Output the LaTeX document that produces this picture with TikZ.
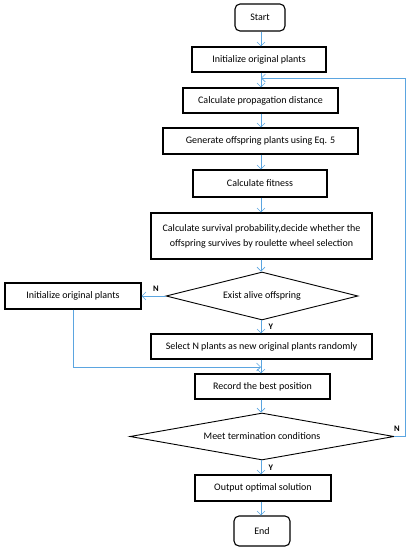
\documentclass[tikz,border=0pt]{standalone}
\usepackage{fontspec}
\setmainfont{Carlito}
\usetikzlibrary{shapes.geometric,arrows.meta}
\definecolor{flowblue}{RGB}{91,165,224}
\tikzset{
  stepbox/.style={draw=black,line width=1.1pt,fill=white,inner sep=2pt,font=\fontsize{10}{15}\selectfont,align=center},
  termbox/.style={stepbox,rounded corners=5pt},
  testbox/.style={draw=black,line width=0.9pt,shape=diamond,inner sep=0pt,font=\fontsize{10}{13}\selectfont},
  flow/.style={draw=flowblue,line width=0.6pt,-{Straight Barb[length=4pt,width=8pt]}},
  yesno/.style={font=\fontsize{8.5}{10}\selectfont\bfseries}
}
\begin{document}
\begin{tikzpicture}[x=1pt,y=-1pt]
\useasboundingbox (0,0) rectangle (409,550);
% main column
\node[termbox,minimum width=50pt,minimum height=27pt] (start) at (260,17.5) {Start};
\node[stepbox,minimum width=134pt,minimum height=25pt] (init) at (259,59.5) {Initialize original plants};
\node[stepbox,minimum width=155pt,minimum height=25pt] (dist) at (260.5,100.5) {Calculate propagation distance};
\node[stepbox,minimum width=195pt,minimum height=26pt] (gen) at (260.5,141) {Generate offspring plants using Eq. 5};
\node[stepbox,minimum width=134pt,minimum height=27pt] (fit) at (260,183.5) {Calculate fitness};
\node[stepbox,minimum width=221pt,minimum height=46pt] (surv) at (261.5,236) {Calculate survival probability,decide whether the\\offspring survives by roulette wheel selection};
\node[testbox,shape aspect=4,minimum width=192pt,minimum height=48pt] (alive) at (262,296) {Exist alive offspring};
\node[stepbox,minimum width=136pt,minimum height=26pt] (reinit) at (73,296) {Initialize original plants};
\node[stepbox,minimum width=221pt,minimum height=25pt] (sel) at (261.5,346.5) {Select N plants as new original plants randomly};
\node[stepbox,minimum width=135pt,minimum height=25pt] (best) at (262.5,386.5) {Record the best position};
\node[testbox,shape aspect=5.5,minimum width=264pt,minimum height=47pt] (term) at (262,436.5) {Meet termination conditions};
\node[stepbox,minimum width=136pt,minimum height=26pt] (out) at (263,488) {Output optimal solution};
\node[termbox,minimum width=56pt,minimum height=30pt] (end) at (262,531) {End};
% helper points
\coordinate (loop) at (261,78);
\coordinate (join) at (261,367);
\coordinate (right) at (405,436.5);
% connectors
\draw[flow] (start.south -| 261,0) -- (init.north -| 261,0);
\draw[flow] (init.south -| 261,0) -- (dist.north -| 261,0);
\draw[flow] (dist.south -| 261,0) -- (gen.north -| 261,0);
\draw[flow] (gen.south -| 261,0) -- (fit.north -| 261,0);
\draw[flow] (fit.south -| 261,0) -- (surv.north -| 261,0);
\draw[flow] (surv.south -| 261,0) -- (alive.north -| 261,0);
\draw[flow] (alive.west) -- (reinit.east) node[yesno,pos=0.4,above=1pt]{N};
\draw[flow] (alive.south -| 261,0) -- (sel.north -| 261,0) node[yesno,pos=0.5,right=4pt]{Y};
\draw[flow] (sel.south -| 261,0) -- (best.north -| 261,0);
\draw[flow] (reinit.south) |- (join);
\draw[flow] (best.south -| 261,0) -- (term.north -| 261,0);
\draw[flow] (term.south -| 261,0) -- (out.north -| 261,0) node[yesno,pos=0.5,right=4pt]{Y};
\draw[flow] (out.south -| 261,0) -- (end.north -| 261,0);
\draw[flow] (term.east) -- (right) |- (loop);
\node[yesno] (nlab) at (397,429) {N};
\end{tikzpicture}
\end{document}
